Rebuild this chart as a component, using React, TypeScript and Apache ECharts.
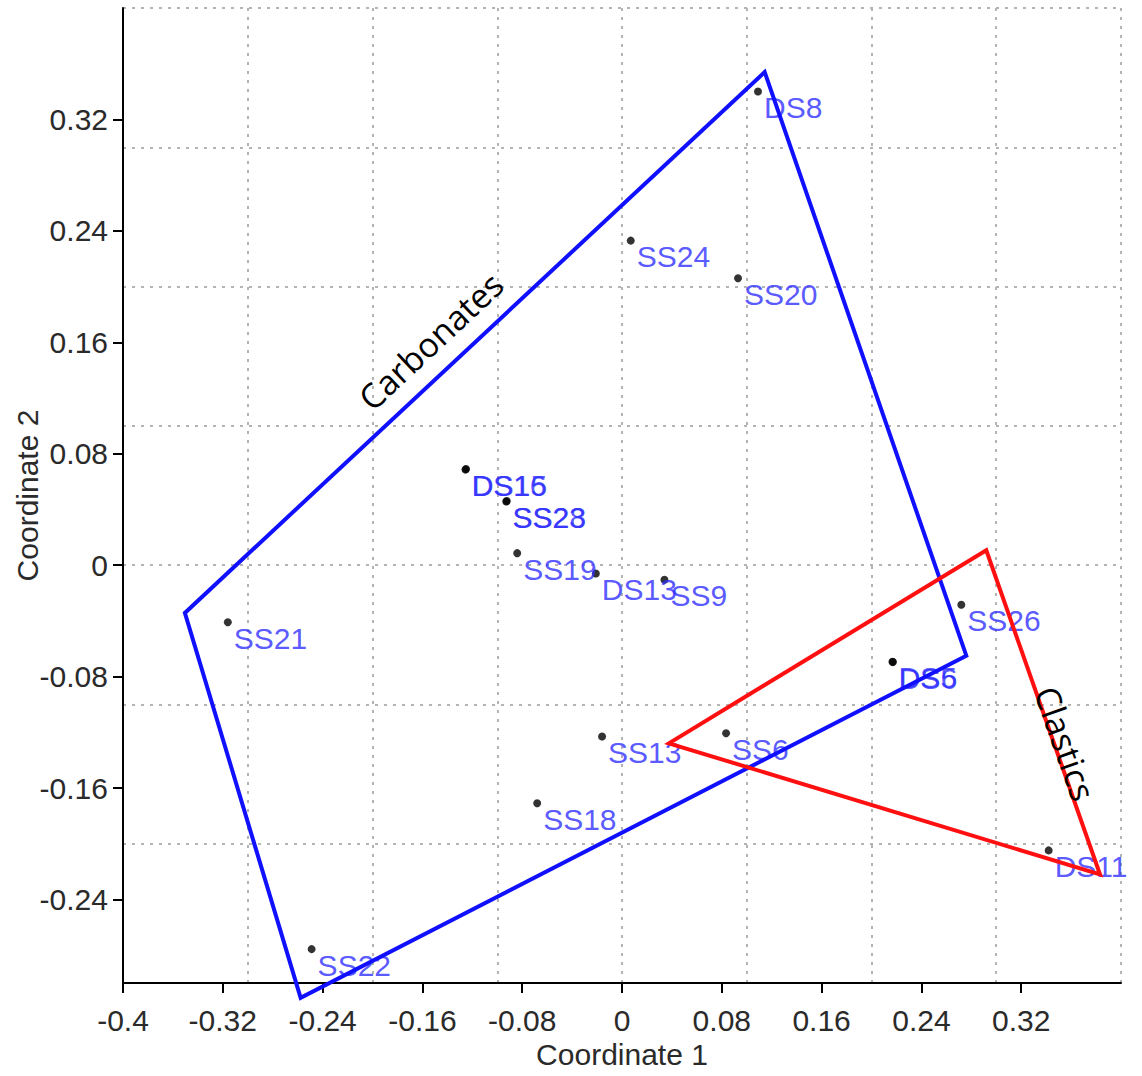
import React, { useEffect, useRef } from "react";
import * as echarts from "echarts";

// Sample points (Coordinate 1, Coordinate 2)
const sampleNames = [
  "DS8", "SS24", "SS20", "DS16", "DS15", "SS23", "SS28", "SS19", "DS13", "SS9",
  "SS21", "SS26", "DS5", "DS6", "SS13", "SS6", "SS18", "DS11", "SS22",
];
const coord1 = [
  0.109, 0.007, 0.093, -0.1255, -0.125, -0.0928, -0.0924, -0.084, -0.021, 0.034,
  -0.316, 0.272, 0.2168, 0.2172, -0.016, 0.0834, -0.068, 0.342, -0.2488,
];
const coord2 = [
  0.340, 0.233, 0.206, 0.0686, 0.069, 0.0457, 0.046, 0.0086, -0.006, -0.0105,
  -0.041, -0.0284, -0.0693, -0.0696, -0.123, -0.1207, -0.171, -0.2048, -0.2757,
];

// Group hulls
const carbonatesHull = [
  [0.1144, 0.354],
  [0.276, -0.065],
  [-0.2576, -0.3107],
  [-0.3504, -0.0343],
];
const clasticsHull = [
  [0.292, 0.0107],
  [0.3832, -0.2221],
  [0.0376, -0.1279],
];
const carbonatesLabelAt = [-0.1535, 0.161];
const clasticsLabelAt = [0.3555, -0.128];

// Ticks
const xTicks = [-0.4, -0.32, -0.24, -0.16, -0.08, 0, 0.08, 0.16, 0.24, 0.32];
const xTickLabels = ["-0.4", "-0.32", "-0.24", "-0.16", "-0.08", "0", "0.08", "0.16", "0.24", "0.32"];
const yTicks = [-0.24, -0.16, -0.08, 0, 0.08, 0.16, 0.24, 0.32];
const yTickLabels = ["-0.24", "-0.16", "-0.08", "0", "0.08", "0.16", "0.24", "0.32"];

const findLabel = (ticks: number[], labels: string[]) => (v: number) => {
  const i = ticks.findIndex((t) => Math.abs(t - v) < 1e-9);
  return i >= 0 ? labels[i] : "";
};

const FONT = "'Liberation Sans', Arial, sans-serif";
const TICK_COLOR = "#2a2a2a";
const GRID_LINE = { color: "#b4b4b4", width: 2, type: [3, 6] as number[] };

function hullSeries(hull: number[][], color: string, labelText: string, labelAt: number[], rot: number) {
  return {
    type: "custom",
    clip: false,
    z: 5,
    xAxisIndex: 0,
    yAxisIndex: 0,
    data: [labelAt],
    renderItem: (params: any, api: any) => {
      const pts = hull.map((p) => api.coord(p));
      const c = api.coord(labelAt);
      return {
        type: "group",
        children: [
          {
            type: "polygon",
            shape: { points: pts },
            style: { fill: "none", stroke: color, lineWidth: 4, lineJoin: "miter" },
          },
          {
            type: "text",
            x: c[0],
            y: c[1],
            rotation: rot,
            style: {
              text: labelText,
              fontSize: 34,
              fontFamily: "'Open Sans', sans-serif",
              fill: "#000000",
              align: "center",
              verticalAlign: "middle",
            },
          },
        ],
      };
    },
  };
}

export default function App() {
  const ref = useRef<HTMLDivElement>(null);
  useEffect(() => {
    document.body.style.margin = "0";
    if (!ref.current) return;
    const chart = echarts.init(ref.current, undefined, { renderer: "svg" });
    const points = sampleNames.map((n, i) => ({ name: n, value: [coord1[i], coord2[i]] }));
    chart.setOption({
      animation: false,
      backgroundColor: "#ffffff",
      grid: { left: 123, right: 21, top: 8, bottom: 93, containLabel: false, outerBoundsMode: "none" },
      xAxis: [
        {
          type: "value",
          min: -0.4,
          max: 0.4,
          interval: 0.1,
          position: "bottom",
          name: "Coordinate 1",
          nameLocation: "middle",
          nameGap: 56,
          nameMoveOverlap: false,
          nameTextStyle: { fontSize: 30, color: TICK_COLOR, fontFamily: FONT },
          axisLine: { show: true, onZero: false, lineStyle: { color: "#000", width: 2 } },
          axisTick: { show: true, customValues: xTicks, length: 10, lineStyle: { color: "#000", width: 2 } },
          axisLabel: {
            show: true,
            customValues: xTicks,
            formatter: findLabel(xTicks, xTickLabels),
            fontSize: 30,
            color: TICK_COLOR,
            fontFamily: FONT,
            margin: 22,
          },
          splitLine: { show: false },
        },
        {
          type: "value",
          min: -0.4,
          max: 0.4,
          interval: 0.1,
          position: "bottom",
          axisLine: { show: false },
          axisTick: { show: false },
          axisLabel: { show: false },
          splitLine: { show: true, lineStyle: GRID_LINE },
        },
      ],
      yAxis: [
        {
          type: "value",
          min: -0.3,
          max: 0.4,
          interval: 0.1,
          position: "left",
          name: "Coordinate 2",
          nameLocation: "middle",
          nameGap: 81,
          nameMoveOverlap: false,
          nameRotate: 90,
          nameTextStyle: { fontSize: 30, color: TICK_COLOR, fontFamily: FONT },
          axisLine: { show: true, onZero: false, lineStyle: { color: "#000", width: 2 } },
          axisTick: { show: true, customValues: yTicks, length: 10, lineStyle: { color: "#000", width: 2 } },
          axisLabel: {
            show: true,
            customValues: yTicks,
            formatter: findLabel(yTicks, yTickLabels),
            fontSize: 30,
            color: TICK_COLOR,
            fontFamily: FONT,
            margin: 15,
          },
          splitLine: { show: false },
        },
        {
          type: "value",
          min: -0.3,
          max: 0.4,
          interval: 0.1,
          position: "left",
          axisLine: { show: false },
          axisTick: { show: false },
          axisLabel: { show: false },
          splitLine: { show: true, lineStyle: GRID_LINE },
        },
      ],
      series: [
        {
          type: "scatter",
          xAxisIndex: 0,
          yAxisIndex: 0,
          symbol: "circle",
          symbolSize: 8,
          itemStyle: { color: "#000000" },
          z: 3,
          label: {
            show: true,
            formatter: "{b}",
            position: [10, 20],
            align: "left",
            verticalAlign: "middle",
            fontSize: 30,
            fontFamily: FONT,
            color: "#2e2eff",
          },
          data: points,
        },
        hullSeries(carbonatesHull, "#1010ff", "Carbonates", carbonatesLabelAt, (43 * Math.PI) / 180),
        hullSeries(clasticsHull, "#ff1010", "Clastics", clasticsLabelAt, (-70.5 * Math.PI) / 180),
      ],
    });
    return () => chart.dispose();
  }, []);
  return <div ref={ref} style={{ width: 1142, height: 1076 }} />;
}
